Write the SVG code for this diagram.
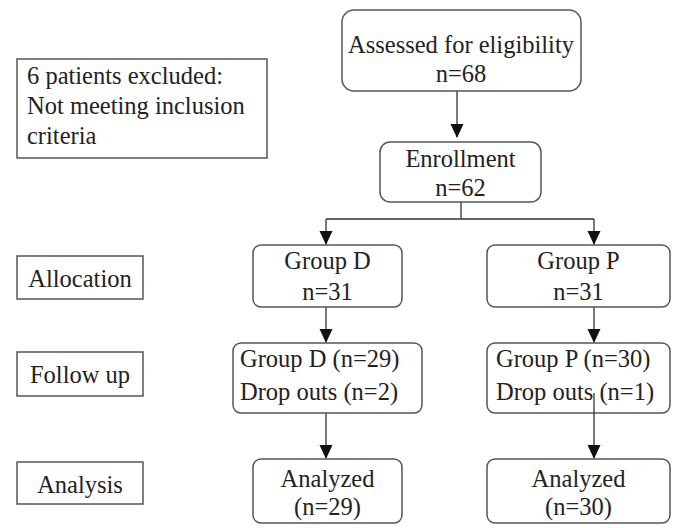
<svg xmlns="http://www.w3.org/2000/svg" width="678" height="528" viewBox="0 0 678 528">
<style>
.box{fill:#fff;stroke:#555;stroke-width:1.5}
.t{font-family:"Liberation Serif","Times New Roman",serif;font-size:24.5px;fill:#222}
.c{text-anchor:middle}
.ln{fill:none;stroke:#333;stroke-width:1.3}
</style>
<defs>
<marker id="ah" markerUnits="userSpaceOnUse" markerWidth="14" markerHeight="16" refX="13" refY="6.5" orient="auto">
<path d="M0,0 L14,6.5 L0,13 Z" fill="#111"/>
</marker>
</defs>
<rect width="678" height="528" fill="#fff"/>
<g id="connectors">
<line class="ln" x1="457" y1="91" x2="457" y2="137" marker-end="url(#ah)"/>
<polyline class="ln" points="461,202 461,219"/>
<polyline class="ln" points="326,219 594,219"/>
<line class="ln" x1="326" y1="219" x2="326" y2="244" marker-end="url(#ah)"/>
<line class="ln" x1="594" y1="219" x2="594" y2="244" marker-end="url(#ah)"/>
<line class="ln" x1="326" y1="307" x2="326" y2="342" marker-end="url(#ah)"/>
<line class="ln" x1="594" y1="307" x2="594" y2="342" marker-end="url(#ah)"/>
<line class="ln" x1="326" y1="413" x2="326" y2="458" marker-end="url(#ah)"/>
</g>
<g id="excluded">
<rect class="box" x="17" y="59" width="250" height="99"/>
<text class="t" x="27" y="84">6 patients excluded:</text>
<text class="t" x="27" y="114">Not meeting inclusion</text>
<text class="t" x="27" y="144">criteria</text>
</g>
<g id="assessed">
<rect class="box" x="342" y="10" width="239" height="81" rx="12"/>
<text class="t c" x="461" y="53">Assessed for eligibility</text>
<text class="t c" x="461" y="82">n=68</text>
</g>
<g id="enrollment">
<rect class="box" x="380" y="142" width="161" height="60" rx="10"/>
<text class="t c" x="460.5" y="167">Enrollment</text>
<text class="t c" x="460.5" y="196">n=62</text>
</g>
<g id="allocation">
<rect class="box" x="17" y="256" width="126" height="43"/>
<text class="t c" x="80" y="287">Allocation</text>
</g>
<g id="followup">
<rect class="box" x="17" y="352" width="126" height="44"/>
<text class="t c" x="80" y="383">Follow up</text>
</g>
<g id="analysis">
<rect class="box" x="17" y="462" width="126" height="42"/>
<text class="t c" x="80" y="493">Analysis</text>
</g>
<g id="groupD">
<rect class="box" x="253" y="245" width="149" height="62" rx="8"/>
<text class="t c" x="327.5" y="269">Group D</text>
<text class="t c" x="327.5" y="300">n=31</text>
</g>
<g id="groupP">
<rect class="box" x="487" y="245" width="183" height="62" rx="8"/>
<text class="t c" x="578.5" y="269">Group P</text>
<text class="t c" x="578.5" y="300">n=31</text>
</g>
<g id="followD">
<rect class="box" x="233" y="343" width="189" height="70" rx="8"/>
<text class="t" x="240" y="367">Group D (n=29)</text>
<text class="t" x="240" y="400">Drop outs (n=2)</text>
</g>
<g id="followP">
<rect class="box" x="487" y="343" width="183" height="70" rx="8"/>
<text class="t" x="496" y="367">Group P (n=30)</text>
<text class="t" x="496" y="400">Drop outs (n=1)</text>
</g>
<g id="connectors-over">
<line class="ln" x1="594" y1="393" x2="594" y2="458" marker-end="url(#ah)"/>
</g>
<g id="analyzedD">
<rect class="box" x="253" y="459" width="149" height="64" rx="8"/>
<text class="t c" x="327.5" y="487">Analyzed</text>
<text class="t c" x="327.5" y="515">(n=29)</text>
</g>
<g id="analyzedP">
<rect class="box" x="487" y="459" width="183" height="64" rx="8"/>
<text class="t c" x="578.5" y="487">Analyzed</text>
<text class="t c" x="578.5" y="515">(n=30)</text>
</g>
</svg>
